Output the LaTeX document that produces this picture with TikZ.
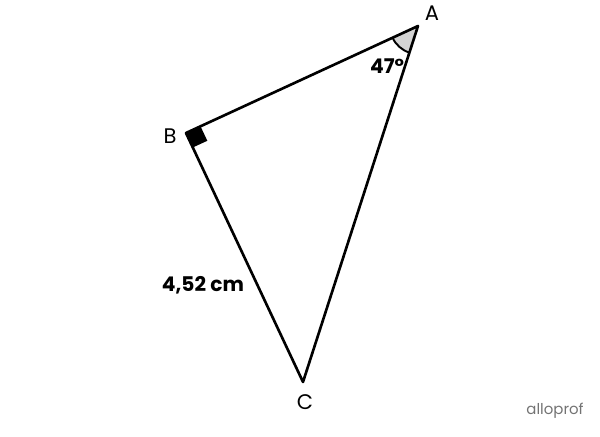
\documentclass[tikz,border=0pt]{standalone}
\usepackage{fontspec}
\setmainfont{Poppins}
\usetikzlibrary{calc}
\begin{document}
\begin{tikzpicture}[x=0.02cm,y=0.02cm,
    side/.style={line width=1.5pt,line join=round},
    lbl/.style={font=\fontsize{12}{14}\selectfont},
    measure/.style={font=\fontsize{11.5}{13}\selectfont\bfseries}]
      \useasboundingbox (0,0) rectangle (600,437);
      \coordinate (A) at (418,411);
      \coordinate (B) at (186,304);
      \coordinate (C) at (303,55);
      % angle at A
      \fill[black!17] (A) -- ($(A)!0.56cm!(B)$) arc (204.8:252.1:28) -- cycle;
      \draw[line width=1.1pt] ($(A)!0.56cm!(B)$) arc (204.8:252.1:28);
      % right angle at B
      \fill (B) -- ($(B)!0.32cm!(A)$) -- ($($(B)!0.32cm!(A)$)+($(B)!0.32cm!(C)$)-(B)$) -- ($(B)!0.32cm!(C)$) -- cycle;
      \draw[side] (A) -- (B) -- (C) -- cycle;
      \draw
        (432,424) node[lbl] (a){A}
        (170,301) node[lbl] (b){B}
        (305,35) node[lbl] (c){C}
        (387,371) node[measure] (ang){47°}
        (203,152) node[measure] (len){4,52 cm}
        (555,26) node[font=\fontsize{8.5}{10}\selectfont,black!55] (logo){alloprof};
    \end{tikzpicture}
\end{document}
